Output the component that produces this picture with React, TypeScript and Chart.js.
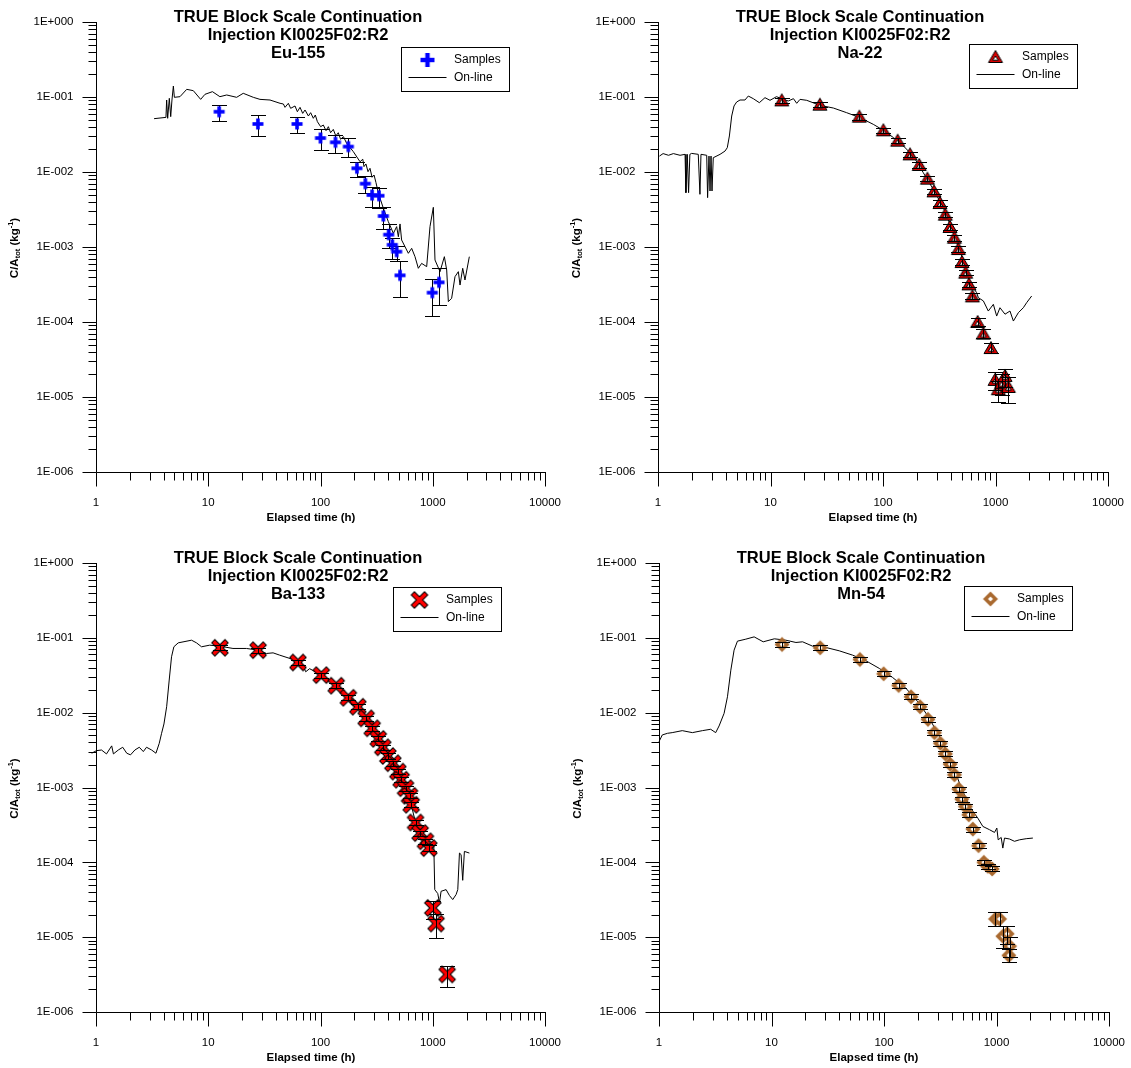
import React, { useEffect, useRef } from "react";
import { Chart, registerables } from "chart.js";
Chart.register(...registerables);

const FONT = '"Liberation Sans", Arial, Helvetica, sans-serif';

// ---------- text ----------
const titleLine1 = "TRUE Block Scale Continuation";
const titleLine2 = "Injection KI0025F02:R2";
const nuclideNames = ["Eu-155", "Na-22", "Ba-133", "Mn-54"];
const legendLabels = ["Samples", "On-line"];
const xAxisTitle = "Elapsed time (h)";
const xTickValues = [1, 10, 100, 1000, 10000];
const xTickLabels = ["1", "10", "100", "1000", "10000"];
const yTickValues = [1, 0.1, 0.01, 0.001, 0.0001, 0.00001, 0.000001];
const yTickLabels = ["1E+000", "1E-001", "1E-002", "1E-003", "1E-004", "1E-005", "1E-006"];

// ---------- Eu-155 ----------
const euSampleTime = [12.5, 27.7, 61.8, 100, 136, 177, 211, 251, 288, 332, 363, 405, 436, 477, 511, 991, 1137];
const euSampleConc = [0.0637, 0.0437, 0.0437, 0.0284, 0.0249, 0.0218, 0.0112, 0.00699, 0.00493, 0.00483, 0.00259, 0.00146, 0.00107, 0.000867, 0.000419, 0.000246, 0.000338];
const euSampleLow = [0.0483, 0.0299, 0.0334, 0.0199, 0.0181, 0.0158, 0.00867, 0.0053, 0.00338, 0.00334, 0.00175, 0.00096, 0.000686, 0.000645, 0.000218, 0.000121, 0.000167];
const euSampleHigh = [0.0775, 0.058, 0.0547, 0.037, 0.0315, 0.0284, 0.0135, 0.00893, 0.00637, 0.00605, 0.00345, 0.00201, 0.00132, 0.00103, 0.000645, 0.000378, 0.00052];
const euLineTime = [3.29, 4.2, 4.26, 4.35, 4.5, 4.63, 4.75, 4.89, 4.99, 5.6, 6.43, 7.36, 8.56, 9.35, 10.9, 12.7, 14.6, 17.9, 20.5, 25.2, 28.9, 35.5, 43.6, 46.7, 48.3, 51.7, 54.2, 59.3, 62.2, 65.7, 69.4, 72.8, 78, 81.7, 86.3, 89.9, 93.8, 100.3, 106, 112, 117.5, 123, 130, 137, 144, 151, 160, 171, 196, 225, 238, 244, 254, 265, 276, 288, 300, 312, 328, 363, 402, 446, 477, 494, 511, 528, 566, 606, 649, 695, 744, 796, 883, 945, 1012, 1047, 1161, 1269, 1331, 1377, 1473, 1578, 1690, 1750, 1849, 1937, 2118];
const euLineConc = [0.0514, 0.0535, 0.0912, 0.052, 0.096, 0.0547, 0.0912, 0.14, 0.099, 0.101, 0.1265, 0.1215, 0.093, 0.1086, 0.1178, 0.101, 0.1064, 0.099, 0.112, 0.099, 0.093, 0.0912, 0.0824, 0.0807, 0.0728, 0.0824, 0.0706, 0.0759, 0.0637, 0.0728, 0.0605, 0.0671, 0.0558, 0.0618, 0.052, 0.0575, 0.0469, 0.0402, 0.0423, 0.0356, 0.0402, 0.0334, 0.037, 0.0302, 0.0334, 0.0273, 0.0296, 0.0241, 0.0187, 0.0137, 0.0148, 0.0118, 0.0128, 0.0101, 0.0112, 0.0085, 0.00912, 0.00721, 0.0052, 0.00328, 0.00218, 0.00152, 0.00187, 0.00137, 0.00203, 0.00124, 0.00101, 0.000824, 0.00096, 0.000743, 0.00052, 0.000605, 0.000547, 0.00187, 0.00338, 0.000671, 0.000469, 0.000743, 0.000493, 0.000187, 0.000207, 0.000402, 0.000469, 0.000311, 0.00052, 0.000363, 0.000743];

// ---------- Na-22 ----------
const naSampleTime = [12.6, 27.5, 61.6, 100.7, 135, 174, 210, 248, 284, 321, 358, 394, 431, 468, 504, 543, 581, 623, 694, 780, 912, 991, 1060, 1135, 1215, 1300];
const naSampleConc = [0.0903, 0.079, 0.0547, 0.036, 0.0262, 0.0172, 0.0124, 0.00815, 0.00552, 0.00386, 0.0027, 0.00185, 0.00133, 0.00094, 0.00063, 0.000455, 0.000318, 0.00022, 0.0001, 0.0000699, 0.000045, 0.0000169, 0.0000127, 0.0000155, 0.0000191, 0.0000136];
const naSampleLow = [0.083, 0.073, 0.05, 0.033, 0.024, 0.0158, 0.0114, 0.0075, 0.0051, 0.00355, 0.00248, 0.0017, 0.00122, 0.00086, 0.00058, 0.00042, 0.000292, 0.000202, 0.000088, 0.000061, 0.000039, 0.0000125, 0.0000085, 0.0000105, 0.0000135, 0.0000082];
const naSampleHigh = [0.098, 0.086, 0.06, 0.039, 0.0285, 0.0187, 0.0135, 0.0089, 0.006, 0.0042, 0.00294, 0.00201, 0.00145, 0.00102, 0.00069, 0.000495, 0.000346, 0.00024, 0.000114, 0.00008, 0.000052, 0.0000215, 0.0000165, 0.00002, 0.0000235, 0.0000185];
const naLineTime = [1.03, 1.11, 1.24, 1.37, 1.57, 1.74, 1.77, 1.82, 1.87, 1.92, 1.99, 2.28, 2.36, 2.41, 2.71, 2.76, 2.84, 2.9, 2.96, 3.02, 3.1, 3.56, 3.94, 4.13, 4.31, 4.52, 4.74, 5.0, 5.36, 5.93, 6.35, 7.03, 7.96, 8.93, 9.9, 11.3, 13, 14.4, 16, 17.1, 18.3, 21, 27.5, 36.2, 47.5, 62.5, 82, 100.7, 124, 152, 186, 228, 280, 344, 422, 500, 593, 680, 704, 780, 863, 957, 1024, 1096, 1215, 1345, 1442, 1596, 1767, 1892, 2096];
const naLineConc = [0.0163, 0.0176, 0.0167, 0.0176, 0.0167, 0.0172, 0.0053, 0.0172, 0.0053, 0.0172, 0.0177, 0.0172, 0.00504, 0.0172, 0.0167, 0.00455, 0.0163, 0.00558, 0.0163, 0.00558, 0.0155, 0.0172, 0.019, 0.0211, 0.0302, 0.0558, 0.0759, 0.0857, 0.0912, 0.0912, 0.103, 0.095, 0.084, 0.098, 0.0903, 0.101, 0.093, 0.0885, 0.095, 0.0824, 0.093, 0.0903, 0.0774, 0.0713, 0.0618, 0.053, 0.0432, 0.036, 0.0287, 0.0222, 0.0163, 0.0098, 0.00587, 0.00334, 0.00155, 0.000759, 0.000334, 0.000246, 0.000211, 0.000191, 0.00014, 0.000172, 0.00012, 0.000155, 0.000127, 0.00014, 0.000103, 0.000133, 0.000155, 0.000181, 0.000222];

// ---------- Ba-133 ----------
const baSampleTime = [12.7, 27.8, 63, 101.6, 138, 177, 215, 255, 289, 327, 359, 398, 441, 489, 523, 572, 621, 643, 702, 772, 861, 922, 1001, 1071, 1343];
const baSampleConc = [0.0736, 0.0685, 0.0469, 0.0318, 0.0229, 0.0158, 0.012, 0.0084, 0.00618, 0.00446, 0.00345, 0.00264, 0.00211, 0.00163, 0.00127, 0.00098, 0.000774, 0.000588, 0.000341, 0.000246, 0.000191, 0.000155, 0.0000246, 0.0000152, 0.00000318];
const baSampleLow = [0.068, 0.063, 0.0435, 0.0295, 0.0212, 0.0146, 0.0111, 0.0078, 0.00572, 0.00413, 0.0032, 0.00244, 0.00195, 0.00151, 0.00117, 0.00091, 0.000716, 0.000544, 0.000315, 0.000226, 0.000176, 0.000142, 0.0000177, 0.0000098, 0.00000216];
const baSampleHigh = [0.0795, 0.074, 0.0507, 0.0343, 0.0247, 0.0171, 0.013, 0.0091, 0.00668, 0.00482, 0.00373, 0.00285, 0.00228, 0.00176, 0.00137, 0.00106, 0.000836, 0.000635, 0.000369, 0.000266, 0.000206, 0.000168, 0.0000302, 0.0000207, 0.0000041];
const baLineTime = [0.826, 0.915, 1.01, 1.12, 1.24, 1.38, 1.43, 1.58, 1.73, 1.88, 2.03, 2.22, 2.43, 2.64, 2.82, 3.13, 3.42, 3.66, 3.84, 4.03, 4.26, 4.49, 4.71, 4.94, 5.4, 7.1, 7.86, 8.71, 10.3, 12.7, 16.6, 21.9, 27.8, 33, 37.8, 43.3, 56.9, 69.8, 73.8, 80, 101.6, 138, 177, 215, 255, 327, 398, 489, 572, 643, 702, 815, 935, 1021, 1042, 1109, 1148, 1186, 1315, 1409, 1507, 1614, 1671, 1729, 1788, 1849, 1914, 2120];
const baLineConc = [0.00302, 0.00287, 0.00311, 0.00317, 0.00281, 0.0036, 0.00281, 0.00317, 0.00345, 0.00287, 0.00273, 0.00317, 0.00345, 0.00302, 0.00345, 0.00317, 0.00287, 0.0039, 0.0053, 0.00706, 0.012, 0.0273, 0.0558, 0.0759, 0.0857, 0.093, 0.0857, 0.0759, 0.0798, 0.0774, 0.0721, 0.0721, 0.0685, 0.0618, 0.063, 0.0587, 0.0514, 0.0432, 0.0352, 0.0387, 0.0318, 0.0229, 0.0158, 0.012, 0.0084, 0.00446, 0.00264, 0.00163, 0.00098, 0.000588, 0.000341, 0.000211, 0.000191, 0.000181, 0.0000432, 0.0000382, 0.0000287, 0.000041, 0.0000432, 0.000036, 0.0000318, 0.0000371, 0.0000432, 0.000133, 0.000127, 0.0000575, 0.00014, 0.000133];

// ---------- Mn-54 ----------
const mnSampleTime = [12.4, 27.1, 61.1, 99.3, 135, 174, 209, 246, 281, 317, 351, 387, 423, 462, 491, 529, 567, 616, 692, 772, 837, 915, 979, 1064, 1139, 1244, 1306, 1288];
const mnSampleConc = [0.0815, 0.0736, 0.0514, 0.0331, 0.0231, 0.0163, 0.012, 0.00815, 0.00541, 0.0039, 0.00281, 0.00205, 0.00148, 0.00095, 0.000699, 0.000558, 0.000432, 0.000278, 0.000167, 0.0001, 0.0000885, 0.0000815, 0.0000175, 0.0000175, 0.0000103, 0.0000111, 0.00000759, 0.0000057];
const mnSampleLow = [0.0755, 0.068, 0.0476, 0.0307, 0.0214, 0.0151, 0.0111, 0.00755, 0.00501, 0.00361, 0.0026, 0.0019, 0.00137, 0.00088, 0.000647, 0.000517, 0.0004, 0.000257, 0.000155, 0.0000926, 0.000082, 0.0000755, 0.000014, 0.000014, 0.0000072, 0.000008, 0.0000054, 0.0000046];
const mnSampleHigh = [0.088, 0.0795, 0.0555, 0.0357, 0.0249, 0.0176, 0.013, 0.0088, 0.00584, 0.00421, 0.00303, 0.00221, 0.0016, 0.00103, 0.000755, 0.000603, 0.000467, 0.0003, 0.00018, 0.000108, 0.0000956, 0.000088, 0.0000215, 0.0000215, 0.000014, 0.000014, 0.00001, 0.000007];
const mnLineTime = [1, 1.07, 1.19, 1.31, 1.61, 1.98, 2.43, 2.88, 3.19, 3.42, 3.79, 4.06, 4.35, 4.65, 4.98, 5.91, 7.01, 8.44, 10.6, 13.4, 16.5, 18.9, 23.2, 30.5, 40, 52.6, 69.2, 90.9, 119, 157, 206, 253, 311, 382, 469, 575, 682, 756, 866, 960, 1007, 1035, 1101, 1138, 1178, 1306, 1445, 1603, 1837, 2105];
const mnLineConc = [0.0041, 0.00504, 0.0053, 0.00541, 0.00575, 0.00541, 0.00575, 0.006, 0.00541, 0.00664, 0.0098, 0.0163, 0.037, 0.0685, 0.0903, 0.096, 0.103, 0.0885, 0.097, 0.093, 0.0867, 0.0885, 0.0774, 0.0743, 0.0671, 0.0587, 0.0493, 0.039, 0.0296, 0.0211, 0.0133, 0.0084, 0.00479, 0.00259, 0.00114, 0.000558, 0.00039, 0.000302, 0.000273, 0.000251, 0.000287, 0.0002, 0.000215, 0.000155, 0.000211, 0.000205, 0.000191, 0.0002, 0.000207, 0.000211];

// ---------- layout / style (not data) ----------
type Panel = {
  name: string; marker: string;
  st: number[]; sc: number[]; sl: number[]; sh: number[];
  lt: number[]; lc: number[];
  cx: number; cy: number; cw: number; ch: number;
  L: number; R: number; T: number; B: number;
  legDx: number; legDy: number; barsOnTop: boolean; clipLine: boolean;
};

const PANELS: Panel[] = [
  { name: nuclideNames[0], marker: "plus", st: euSampleTime, sc: euSampleConc, sl: euSampleLow, sh: euSampleHigh, lt: euLineTime, lc: euLineConc,
    cx: 0, cy: 0, cw: 565, ch: 540, L: 96, R: 545, T: 22, B: 472, legDx: 305, legDy: 25, barsOnTop: false, clipLine: true },
  { name: nuclideNames[1], marker: "triangle", st: naSampleTime, sc: naSampleConc, sl: naSampleLow, sh: naSampleHigh, lt: naLineTime, lc: naLineConc,
    cx: 565, cy: 0, cw: 566, ch: 540, L: 658, R: 1108, T: 22, B: 472, legDx: 311, legDy: 22, barsOnTop: true, clipLine: true },
  { name: nuclideNames[2], marker: "cross", st: baSampleTime, sc: baSampleConc, sl: baSampleLow, sh: baSampleHigh, lt: baLineTime, lc: baLineConc,
    cx: 0, cy: 540, cw: 565, ch: 528, L: 96, R: 545, T: 563, B: 1012, legDx: 297, legDy: 24, barsOnTop: true, clipLine: false },
  { name: nuclideNames[3], marker: "diamond", st: mnSampleTime, sc: mnSampleConc, sl: mnSampleLow, sh: mnSampleHigh, lt: mnLineTime, lc: mnLineConc,
    cx: 565, cy: 540, cw: 566, ch: 528, L: 659, R: 1109, T: 563, B: 1012, legDx: 305, legDy: 23, barsOnTop: true, clipLine: false },
];

function makeMarker(kind: string, legend: boolean): HTMLCanvasElement {
  const c = document.createElement("canvas");
  const s = 22;
  c.width = s; c.height = s;
  const g = c.getContext("2d")!;
  const m = s / 2;
  if (kind === "plus") {
    const a = legend ? 7 : 5.5;
    const w = legend ? 2.2 : 1.8;
    g.fillStyle = "#0000FF";
    g.fillRect(m - a, m - w, 2 * a, 2 * w);
    g.fillRect(m - w, m - a, 2 * w, 2 * a);
  } else if (kind === "triangle") {
    g.lineJoin = "miter";
    g.beginPath();
    g.moveTo(m, m - 6.5); g.lineTo(m + 7, m + 5.5); g.lineTo(m - 7, m + 5.5); g.closePath();
    g.fillStyle = "#D80000"; g.fill();
    g.strokeStyle = "#000"; g.lineWidth = 1; g.stroke();
    g.beginPath();
    g.moveTo(m, m - 1); g.lineTo(m + 2.8, m + 3.2); g.lineTo(m - 2.8, m + 3.2); g.closePath();
    g.fillStyle = "#FFFFFF"; g.fill(); g.stroke();
  } else if (kind === "cross") {
    g.lineCap = "butt";
    g.strokeStyle = "#000"; g.lineWidth = 5.5;
    g.beginPath();
    g.moveTo(m - 7, m - 7); g.lineTo(m + 7, m + 7);
    g.moveTo(m + 7, m - 7); g.lineTo(m - 7, m + 7);
    g.stroke();
    g.strokeStyle = "#FF0000"; g.lineWidth = 3.4;
    g.beginPath();
    g.moveTo(m - 6.3, m - 6.3); g.lineTo(m + 6.3, m + 6.3);
    g.moveTo(m + 6.3, m - 6.3); g.lineTo(m - 6.3, m + 6.3);
    g.stroke();
  } else {
    g.beginPath();
    g.moveTo(m, m - 7.5); g.lineTo(m + 7.5, m); g.lineTo(m, m + 7.5); g.lineTo(m - 7.5, m); g.closePath();
    g.fillStyle = "#A9692F"; g.fill();
    g.beginPath();
    g.moveTo(m, m - 2.5); g.lineTo(m + 2.5, m); g.lineTo(m, m + 2.5); g.lineTo(m - 2.5, m); g.closePath();
    g.fillStyle = "#FFFFFF"; g.fill();
  }
  return c;
}

function drawBars(chart: any, p: Panel) {
  const ctx = chart.ctx;
  const xs = chart.scales.x, ys = chart.scales.y;
  ctx.save();
  ctx.strokeStyle = "#000";
  ctx.lineWidth = 1;
  for (let i = 0; i < p.st.length; i++) {
    const x = Math.round(xs.getPixelForValue(p.st[i])) + 0.5;
    const y1 = Math.round(ys.getPixelForValue(p.sl[i])) + 0.5;
    const y2 = Math.round(ys.getPixelForValue(p.sh[i])) + 0.5;
    ctx.beginPath();
    ctx.moveTo(x, y1); ctx.lineTo(x, y2);
    ctx.moveTo(x - 7.5, y1); ctx.lineTo(x + 7.5, y1);
    ctx.moveTo(x - 7.5, y2); ctx.lineTo(x + 7.5, y2);
    ctx.stroke();
  }
  ctx.restore();
}

function drawDecor(chart: any, p: Panel, legendMarker: HTMLCanvasElement) {
  const ctx = chart.ctx;
  const xs = chart.scales.x, ys = chart.scales.y;
  const a = chart.chartArea;
  const L = Math.round(a.left) + 0.5, B = Math.round(a.bottom) + 0.5;
  ctx.save();
  ctx.strokeStyle = "#000";
  ctx.lineWidth = 1;
  // axes
  ctx.beginPath();
  ctx.moveTo(L, Math.round(a.top)); ctx.lineTo(L, B);
  ctx.moveTo(L, B); ctx.lineTo(Math.round(a.right) + 1, B);
  ctx.stroke();
  // y ticks
  ctx.beginPath();
  for (let d = -6; d <= 0; d++) {
    for (let k = 1; k <= 9; k++) {
      const v = k * Math.pow(10, d);
      if (v > 1.0000001) break;
      const y = Math.round(ys.getPixelForValue(v)) + 0.5;
      const len = k === 1 ? 14 : 8;
      ctx.moveTo(L, y); ctx.lineTo(L - len, y);
    }
  }
  // x ticks
  for (let d = 0; d <= 4; d++) {
    for (let k = 1; k <= 9; k++) {
      const v = k * Math.pow(10, d);
      if (v > 10000.0001) break;
      const x = Math.round(xs.getPixelForValue(v)) + 0.5;
      const len = k === 1 ? 14 : 8;
      ctx.moveTo(x, B); ctx.lineTo(x, B + len);
    }
  }
  ctx.stroke();

  // tick labels
  ctx.fillStyle = "#000";
  ctx.font = `11.5px ${FONT}`;
  ctx.textAlign = "right";
  ctx.textBaseline = "middle";
  yTickValues.forEach((v, i) => {
    ctx.fillText(yTickLabels[i], L - 23, ys.getPixelForValue(v));
  });
  ctx.textAlign = "center";
  xTickValues.forEach((v, i) => {
    ctx.fillText(xTickLabels[i], xs.getPixelForValue(v), B + 30);
  });

  // x title
  ctx.font = `bold 11.5px ${FONT}`;
  ctx.fillText(xAxisTitle, a.left + 215, B + 45);

  // y title (rotated, with subscript and superscript)
  ctx.save();
  ctx.translate(a.left - 81, (a.top + a.bottom) / 2 + 1);
  ctx.rotate(-Math.PI / 2);
  const big = `bold 11.5px ${FONT}`;
  const small = `bold 7.5px ${FONT}`;
  const parts = [
    { t: "C/A", f: big, dy: 0 },
    { t: "tot", f: small, dy: 3 },
    { t: " (kg", f: big, dy: 0 },
    { t: "-1", f: small, dy: -4 },
    { t: ")", f: big, dy: 0 },
  ];
  let total = 0;
  parts.forEach((q) => { ctx.font = q.f; total += ctx.measureText(q.t).width; });
  let x0 = -total / 2;
  ctx.textAlign = "left";
  parts.forEach((q) => {
    ctx.font = q.f;
    ctx.fillText(q.t, x0, q.dy);
    x0 += ctx.measureText(q.t).width;
  });
  ctx.restore();

  // chart title
  ctx.textAlign = "center";
  ctx.textBaseline = "middle";
  ctx.font = `bold 16.5px ${FONT}`;
  const tx = a.left + 202;
  ctx.fillText(titleLine1, tx, a.top - 4.5);
  ctx.fillText(titleLine2, tx, a.top + 13.5);
  ctx.fillText(p.name, tx, a.top + 31.5);

  // legend
  const bx = Math.round(a.left + p.legDx) + 0.5;
  const by = Math.round(a.top + p.legDy) + 0.5;
  ctx.fillStyle = "#FFFFFF";
  ctx.fillRect(bx, by, 108, 44);
  ctx.strokeStyle = "#000";
  ctx.strokeRect(bx, by, 108, 44);
  ctx.drawImage(legendMarker, bx + 26 - legendMarker.width / 2, by + 12.5 - legendMarker.height / 2);
  ctx.beginPath();
  ctx.moveTo(bx + 7, by + 30); ctx.lineTo(bx + 45, by + 30);
  ctx.stroke();
  ctx.fillStyle = "#000";
  ctx.font = `12px ${FONT}`;
  ctx.textAlign = "left";
  ctx.fillText(legendLabels[0], bx + 52.5, by + 12.5);
  ctx.fillText(legendLabels[1], bx + 52.5, by + 30);
  ctx.restore();
}

function PanelChart({ p }: { p: Panel }) {
  const ref = useRef<HTMLCanvasElement>(null);
  useEffect(() => {
    const pointMarker = makeMarker(p.marker, false);
    const legendMarker = makeMarker(p.marker, true);
    const sampleData = p.st.map((t, i) => ({ x: t, y: p.sc[i] }));
    const lineData = p.lt.map((t, i) => ({ x: t, y: p.lc[i] }));
    const plugin = {
      id: "decor",
      beforeDatasetsDraw(chart: any) { if (!p.barsOnTop) drawBars(chart, p); },
      afterDatasetsDraw(chart: any) { if (p.barsOnTop) drawBars(chart, p); },
      afterDraw(chart: any) { drawDecor(chart, p, legendMarker); },
    };
    const chart = new Chart(ref.current!, {
      type: "scatter",
      data: {
        datasets: [
          { label: legendLabels[0], data: sampleData, pointStyle: pointMarker as any, pointRadius: 7, showLine: false, order: 0 },
          { label: legendLabels[1], data: lineData, showLine: true, borderColor: "#000", borderWidth: 1, pointRadius: 0, tension: 0, order: 1, clip: p.clipLine ? 0 : (false as any) },
        ],
      },
      options: {
        animation: false,
        responsive: false,
        maintainAspectRatio: false,
        events: [],
        layout: { padding: { left: 0, top: p.T - p.cy, right: p.cw - (p.R - p.cx), bottom: 0 } },
        plugins: { legend: { display: false }, tooltip: { enabled: false }, title: { display: false } },
        scales: {
          x: {
            type: "logarithmic", min: 1, max: 10000, position: "bottom",
            grid: { display: false }, border: { display: false }, ticks: { display: false },
            afterFit: (s: any) => { s.height = p.ch - (p.B - p.cy); },
          },
          y: {
            type: "logarithmic", min: 0.000001, max: 1, position: "left",
            grid: { display: false }, border: { display: false }, ticks: { display: false },
            afterFit: (s: any) => { s.width = p.L - p.cx; },
          },
        },
      },
      plugins: [plugin],
    } as any);
    return () => chart.destroy();
  }, [p]);
  return (
    <canvas ref={ref} width={p.cw} height={p.ch}
      style={{ position: "absolute", left: p.cx, top: p.cy, width: p.cw, height: p.ch }} />
  );
}

export default function App() {
  return (
    <div style={{ position: "absolute", left: 0, top: 0, width: 1131, height: 1068, background: "#FFFFFF" }}>
      {PANELS.map((p, i) => <PanelChart key={i} p={p} />)}
    </div>
  );
}
